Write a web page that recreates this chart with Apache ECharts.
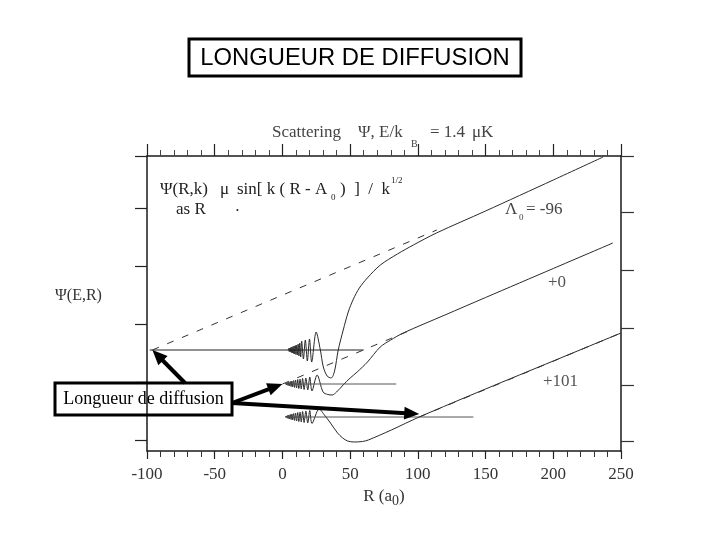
<!DOCTYPE html>
<html><head><meta charset="utf-8">
<script src="https://cdn.jsdelivr.net/npm/echarts@6/dist/echarts.min.js"></script>
<style>html,body{margin:0;padding:0;background:#fff}#c{width:720px;height:540px}</style>
</head><body><div id="c"></div><script>
// ---- data (R in a0, psi in arbitrary units) ----
const xTickValues = [-100, -50, 0, 50, 100, 150, 200, 250];
const leftTicks  = [11, 69, 127, 185, 243, 295];
const rightTicks = [10, 66, 123, 181, 239, 295];

// curve A0 = -96
const r1 = [4.2,4.6,5.0,5.4,5.8,6.2,6.6,7.0,7.4,7.8,8.2,8.6,9.0,9.5,10.0,10.5,11.0,11.6,12.2,12.8,13.5,14.2,15.5,16.9,18.4,20.0,21.6,24.9,28.0,30.2,33.0,36.0,38.5,41.2,44.9,48.6,52.4,56.8,62.7,72.3,84.9,96.7,113.7,150,200,236.8];
const y1 = [101,102.5,99.5,103,99,103.5,98.5,104,98,104.5,97.5,105,97,105.5,96.5,106,96,107,95,108,94,110,92,111,90,112,89,119,101,84,75,73,80,101,121,139,152,163,173,186,197,206,218,240,271,294];
// curve A0 = +0
const r2 = [2.2,2.7,3.2,3.7,4.2,4.7,5.2,5.8,6.4,7.0,7.6,8.3,9.0,9.7,10.5,11.3,12.1,13.0,13.9,14.9,16.0,17.3,18.7,20.2,21.8,25.6,30.0,33.5,36.7,40.0,44.8,50.0,55.2,62.8,72.2,80.0,89.2,120,150,200,244];
const y2 = [67,68,66,68.5,65.5,69,65,69.5,64.5,70,64,70.5,63.5,71,63,71.5,62.5,72,62,72.5,61.5,73,61,74,60,76,59,56.5,56,59,66,73,79,89,104,111,118,136,153.5,182.5,208];
// curve A0 = +101
const r3 = [2.2,2.7,3.2,3.7,4.2,4.7,5.2,5.8,6.4,7.0,7.6,8.3,9.0,9.7,10.5,11.3,12.1,13.0,13.9,14.9,16.0,17.3,18.7,20.2,21.8,27.1,31.0,35.5,40.7,44.5,48.1,53.0,59.0,63.4,80.4,101,150,200,250];
const y3 = [34,35,33,35.5,32.5,36,32,36.5,31.5,37,31,37.5,30.5,38,30,38.5,29.5,39,29,39.5,28.5,40,28,40.5,27.5,42,36,28,18,13,10,9,9.5,11,21,34,62,90,118];

// baselines (R range and level) for each curve
const baseStartR = [-98, 2, 2];
const baseEndR   = [60, 84, 141];
const baseLevel  = [101, 67, 34];
// asymptotes sin[k(R-A0)] : start at A0 on the baseline
const a0Values   = [-96, 0, 101];
const asymEndR   = [114, 95, 250];
const asymEndY   = [221, 121, 118];
// arrow targets (scattering lengths)
const arrowR = [-96, 0, 101];
const arrowY = [101, 67, 37];

const zip = (a, b) => a.map((v, i) => [v, b[i]]);
const SERIF = '"Liberation Serif", "Times New Roman", serif';
const curveColor = '#2a2a2a';

const chart = echarts.init(document.getElementById('c'), null, {renderer: 'canvas'});

const series = [];
[[r1, y1], [r2, y2], [r3, y3]].forEach(([r, y]) => {
  series.push({type: 'line', data: zip(r, y), showSymbol: false, smooth: 0.3,
    lineStyle: {color: curveColor, width: 1}, z: 3, silent: true});
});
for (let i = 0; i < 3; i++) {
  series.push({type: 'line', data: [[baseStartR[i], baseLevel[i]], [baseEndR[i], baseLevel[i]]],
    showSymbol: false, lineStyle: {color: i === 0 ? '#222' : '#555', width: 1}, silent: true});
  series.push({type: 'line', data: [[a0Values[i], baseLevel[i]], [asymEndR[i], asymEndY[i]]],
    showSymbol: false, lineStyle: {color: '#333', width: 1, type: [7, 9]}, silent: true});
}

const axisLineStyle = {color: '#1a1a1a', width: 1.5};

const option = {
  animation: false,
  backgroundColor: '#fff',
  grid: {left: 147, right: 99, top: 156, bottom: 89, containLabel: false},
  xAxis: [{
    type: 'value', position: 'bottom', min: -100, max: 250, interval: 50,
    axisLine: {show: true, onZero: false, lineStyle: axisLineStyle},
    axisTick: {show: true, inside: false, length: 8, lineStyle: {color: '#222', width: 1.2}},
    minorTick: {show: true, splitNumber: 5, length: 6, lineStyle: {color: '#333', width: 1}},
    splitLine: {show: false},
    axisLabel: {color: '#333', fontFamily: SERIF, fontSize: 17, margin: 15},
    name: '{n|R (a}{s|0}{n|)}', nameLocation: 'middle', nameGap: 33,
    nameTextStyle: {rich: {
      n: {fontFamily: SERIF, fontSize: 17, color: '#333'},
      s: {fontFamily: SERIF, fontSize: 14, color: '#333', padding: [10, 0, 0, 0]}
    }}
  }, {
    type: 'value', position: 'top', min: -100, max: 250, interval: 50,
    axisLine: {show: true, onZero: false, lineStyle: axisLineStyle},
    axisTick: {show: true, inside: false, length: 12, lineStyle: {color: '#222', width: 1.2}},
    minorTick: {show: true, splitNumber: 5, length: 6, lineStyle: {color: '#444', width: 1}},
    splitLine: {show: false}, axisLabel: {show: false}
  }],
  yAxis: [{
    type: 'value', position: 'left', min: 0, max: 295,
    axisLine: {show: true, onZero: false, lineStyle: axisLineStyle},
    axisTick: {show: true, inside: false, length: 12, customValues: leftTicks, lineStyle: {color: '#222', width: 1.2}},
    axisLabel: {show: false}, splitLine: {show: false}
  }, {
    type: 'value', position: 'right', min: 0, max: 295,
    axisLine: {show: true, onZero: false, lineStyle: axisLineStyle},
    axisTick: {show: true, inside: false, length: 13, customValues: rightTicks, lineStyle: {color: '#333', width: 1.2}},
    axisLabel: {show: false}, splitLine: {show: false}
  }],
  series: series
};
chart.setOption(option);

// ---- annotations ----
function T(text, x, y, size, extra) {
  return Object.assign({type: 'text', x: x, y: y, z: 10, silent: true,
    style: Object.assign({text: text, font: size + 'px ' + SERIF, fill: '#222',
      textAlign: 'left', textVerticalAlign: 'middle'}, extra || {})});
}
const g = [];
// title box
g.push({type: 'rect', shape: {x: 189, y: 39, width: 332, height: 37}, z: 10,
  style: {fill: '#fff', stroke: '#000', lineWidth: 3}});
g.push({type: 'text', x: 355, y: 58, z: 11, style: {text: 'LONGUEUR DE DIFFUSION',
  font: '23.8px "Liberation Sans", Arial, sans-serif', fill: '#000', textAlign: 'center', textVerticalAlign: 'middle'}});
// header of scanned plot
g.push(T('Scattering', 272, 133, 17, {fill: '#444'}));
g.push(T('Ψ, E/k', 358, 133, 17, {fill: '#444'}));
g.push(T('B', 411, 144, 10, {fill: '#444'}));
g.push(T('= 1.4', 430, 133, 17, {fill: '#444'}));
g.push(T('μK', 472, 133, 17, {fill: '#444'}));
// formula
g.push(T('Ψ(R,k)', 160, 190, 17));
g.push(T('μ', 220, 190, 17));
g.push(T('sin[ k ( R - A', 237, 190, 17));
g.push(T('0', 331, 198, 9));
g.push(T(')  ]  /  k', 340, 190, 17));
g.push(T('1/2', 391, 181, 9));
g.push(T('as R', 176, 210, 17));
g.push(T('•', 236, 211, 8));
// curve labels
g.push(T('Λ', 505, 210, 17, {fill: '#444'}));
g.push(T('0', 519, 218, 9, {fill: '#444'}));
g.push(T('= -96', 526, 210, 17, {fill: '#444'}));
g.push(T('+0', 548, 283, 17, {fill: '#555'}));
g.push(T('+101', 543, 382, 17, {fill: '#555'}));
g.push(T('Ψ(E,R)', 55, 296, 16, {fill: '#333'}));
// callout box
g.push({type: 'rect', shape: {x: 55, y: 383, width: 177, height: 32}, z: 10,
  style: {fill: 'none', stroke: '#000', lineWidth: 3}});
g.push({type: 'text', x: 143.5, y: 399, z: 11, style: {text: 'Longueur de diffusion',
  font: '18px ' + SERIF, fill: '#000', textAlign: 'center', textVerticalAlign: 'middle'}});
// arrows
const tails = [[185, 383], [232, 403], [232, 403]];
for (let i = 0; i < 3; i++) {
  const tip = chart.convertToPixel({xAxisIndex: 0, yAxisIndex: 0}, [arrowR[i], arrowY[i]]);
  const [sx, sy] = tails[i];
  const dx = tip[0] - sx, dy = tip[1] - sy, len = Math.hypot(dx, dy);
  const ux = dx / len, uy = dy / len, nx = -uy, ny = ux;
  const L = 15, W = 6.5;
  const bx = tip[0] - ux * L, by = tip[1] - uy * L;
  g.push({type: 'line', z: 12, shape: {x1: sx, y1: sy, x2: bx + ux * 2, y2: by + uy * 2},
    style: {stroke: '#000', lineWidth: 4}});
  g.push({type: 'polygon', z: 12, shape: {points: [[tip[0], tip[1]], [bx + nx * W, by + ny * W], [bx - nx * W, by - ny * W]]},
    style: {fill: '#000'}});
}
chart.setOption({graphic: {elements: g}});
</script></body></html>
